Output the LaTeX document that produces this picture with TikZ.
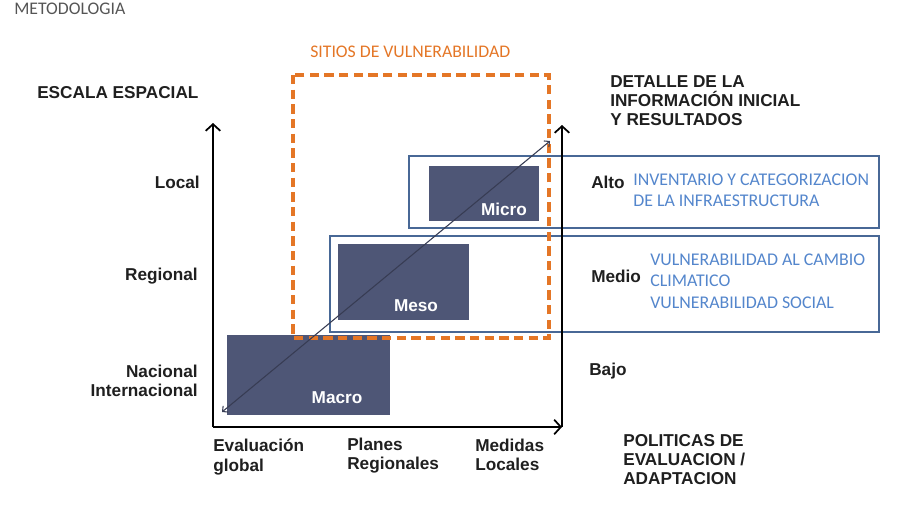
\documentclass[tikz,border=0pt]{standalone}
\usepackage{fontspec}
\setmainfont{Liberation Sans}
\newfontfamily\calibrifam{Carlito}
\usetikzlibrary{arrows.meta}
\definecolor{boxfill}{RGB}{78,86,118}
\definecolor{frameblue}{RGB}{72,104,150}
\definecolor{textblue}{RGB}{84,134,204}
\definecolor{sitioorange}{RGB}{228,118,38}
\definecolor{notegray}{RGB}{85,85,85}

\begin{document}
\begin{tikzpicture}[x=0.75pt, y=-0.75pt,
    lbl/.style={font=\fontsize{12.9}{14.3}\selectfont\bfseries, text=black!88, inner sep=0pt, align=left},
    bluetxt/.style={font=\calibrifam\fontsize{13.4}{16}\selectfont, text=textblue, inner sep=0pt, align=left},
    scalebox/.style={font=\fontsize{12.9}{14.3}\selectfont\bfseries, text=white, inner sep=0pt},
    axis/.style={line width=1.5pt, -{Straight Barb[length=5pt,width=11pt,line width=1.3pt]}}]
    \useasboundingbox (0,0) rectangle (912,507);

    % scale boxes
    \foreach \xa/\ya/\xb/\yb/\nm/\lx/\ly in {429/166/539/221/Micro/504/209, 338/244/469/320/Meso/416/306, 227/335/390/415/Macro/337/398} {
        \fill[boxfill] (\xa,\ya) rectangle (\xb,\yb);
        \node[scalebox] (\nm) at (\lx,\ly) {\nm};
    }

    % detail frames
    \draw[frameblue, line width=1.6pt] (409,156) rectangle (879,228);
    \draw[frameblue, line width=1.6pt] (330,236) rectangle (879,332);

    % vulnerability sites
    \draw[sitioorange, line width=2.3pt, dash pattern=on 7pt off 4pt] (293,75) rectangle (549,338);
    \node[font=\calibrifam\fontsize{13.3}{16}\selectfont, text=sitioorange, inner sep=0pt, anchor=west] (sitios) at (310,52) {SITIOS DE VULNERABILIDAD};

    % axes
    \coordinate (origin) at (213,427);
    \coordinate (ytop) at (213,123);
    \coordinate (xend) at (562,427);
    \coordinate (rtop) at (562,125);
    \draw[axis] (origin) -- (ytop);
    \draw[axis] (origin) -- (xend);
    \draw[axis] (xend) -- (rtop);

    % diagonal
    \coordinate (dlow) at (222,412);
    \coordinate (dhigh) at (550,141);
    \draw[line width=0.8pt, color=boxfill!70!black, {Straight Barb[length=3pt,width=6pt]}-{Straight Barb[length=3pt,width=6pt]}] (dlow) -- (dhigh);

    % titles
    \node[font=\calibrifam\fontsize{13.3}{16}\selectfont, text=notegray, inner sep=0pt, anchor=west] (metodo) at (14,9) {METODOLOGIA};
    \node[lbl, anchor=west] (escala) at (37,93) {ESCALA ESPACIAL};
    \node[lbl, anchor=west] (detalle) at (610,101) {DETALLE DE LA\\INFORMACIÓN INICIAL\\Y RESULTADOS};
    \node[lbl, anchor=west] (politicas) at (623,460) {POLITICAS DE\\EVALUACION /\\ADAPTACION};

    % left axis labels
    \node[lbl, anchor=east] (local) at (200,182) {Local};
    \node[lbl, anchor=east] (regional) at (198,276) {Regional};
    \node[lbl, anchor=east, align=right] (nacional) at (198,381) {Nacional\\Internacional};

    % bottom axis labels
    \node[lbl, anchor=west] (evaluacion) at (213,457) {Evaluación\\global};
    \node[lbl, anchor=west] (planes) at (347,456) {Planes\\Regionales};
    \node[lbl, anchor=west] (medidas) at (475,455) {Medidas\\Locales};

    % detail levels
    \node[lbl, anchor=west] (alto) at (591,182) {Alto};
    \node[bluetxt, anchor=west] (altotxt) at (633,190) {INVENTARIO Y CATEGORIZACION\\DE LA INFRAESTRUCTURA};
    \node[lbl, anchor=west] (medio) at (591,276) {Medio};
    \node[bluetxt, anchor=west] (mediotxt) at (650,281) {VULNERABILIDAD AL CAMBIO\\CLIMATICO\\VULNERABILIDAD SOCIAL};
    \node[lbl, anchor=west] (bajo) at (589,371) {Bajo};
\end{tikzpicture}
\end{document}
